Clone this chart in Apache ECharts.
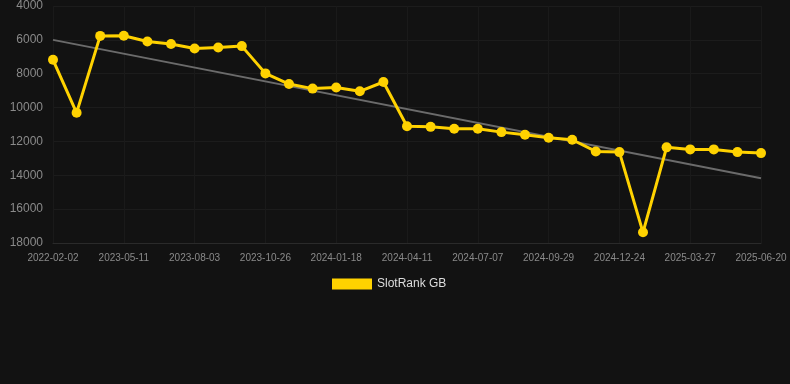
<!DOCTYPE html>
<html>
<head>
<meta charset="utf-8">
<script src="https://cdn.jsdelivr.net/npm/echarts@6/dist/echarts.min.js"></script>
<style>
html,body{margin:0;padding:0;background:#121212;}
#chart{width:790px;height:384px;}
</style>
</head>
<body>
<div id="chart"></div>
<script>
const categories = ["2022-02-02","2023-03-16","2023-04-13","2023-05-11","2023-06-08","2023-07-06","2023-08-03","2023-08-31","2023-09-28","2023-10-26","2023-11-23","2023-12-21","2024-01-18","2024-02-15","2024-03-14","2024-04-11","2024-05-09","2024-06-09","2024-07-07","2024-08-04","2024-09-01","2024-09-29","2024-10-27","2024-11-26","2024-12-24","2025-01-25","2025-02-27","2025-03-27","2025-04-24","2025-05-23","2025-06-20"];
const rankValues = [7180,10310,5765,5760,6100,6250,6510,6450,6370,7980,8610,8880,8810,9040,8490,11100,11140,11250,11250,11450,11610,11780,11900,12590,12630,17370,12350,12470,12470,12630,12690];
const trendValues = [6000,null,null,null,null,null,null,null,null,null,null,null,null,null,null,null,null,null,null,null,null,null,null,null,null,null,null,null,null,null,14180];
const yTicks = {min:4000, max:18000, interval:2000};
const seriesName = "SlotRank GB";

const chart = echarts.init(document.getElementById('chart'));
chart.setOption({
  backgroundColor:'#121212',
  animation:false,
  grid:{left:53,right:29,top:6,bottom:141,containLabel:false},
  legend:{
    data:[{name:seriesName,icon:'rect'}],
    top:273,left:327,
    itemWidth:40,itemHeight:11,itemGap:10,
    textStyle:{color:'#dddddd',fontSize:12,fontFamily:'Arial, Liberation Sans, sans-serif'}
  },
  xAxis:{
    type:'category',data:categories,boundaryGap:false,
    axisLine:{show:true,lineStyle:{color:'#2a2a2a'}},
    axisTick:{show:false},
    axisLabel:{color:'#8a8a8a',fontSize:10,interval:2,margin:10,fontFamily:'Arial, Liberation Sans, sans-serif'},
    splitLine:{show:true,interval:2,lineStyle:{color:'#1a1a1a'}}
  },
  yAxis:{
    type:'value',inverse:true,min:yTicks.min,max:yTicks.max,interval:yTicks.interval,
    axisLine:{show:false},axisTick:{show:false},
    axisLabel:{color:'#8a8a8a',fontSize:12,margin:10,fontFamily:'Arial, Liberation Sans, sans-serif',formatter:function(v){return String(v);}},
    splitLine:{show:true,lineStyle:{color:'#1c1c1c'}}
  },
  series:[
    {
      name:'trend',type:'line',data:trendValues,connectNulls:true,
      symbol:'none',silent:true,
      lineStyle:{color:'#6b6b6b',width:2},
      z:1
    },
    {
      name:seriesName,type:'line',data:rankValues,
      symbol:'circle',symbolSize:10,
      itemStyle:{color:'#ffd200'},
      lineStyle:{color:'#ffd200',width:3},
      z:3
    }
  ]
});
</script>
</body>
</html>
